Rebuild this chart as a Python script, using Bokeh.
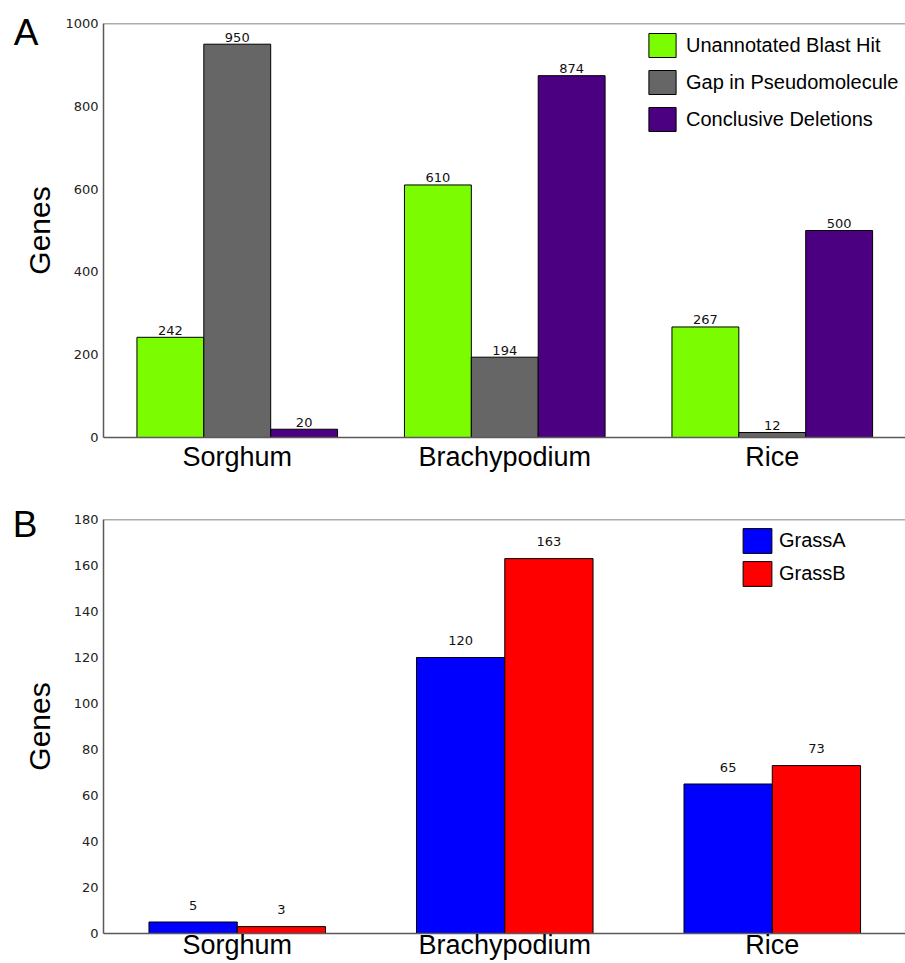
from bokeh.plotting import figure
from bokeh.models import (ColumnDataSource, Range1d, FixedTicker, CustomJSTickFormatter,
                          Legend, LegendItem, Span, LinearAxis)
from bokeh.layouts import column
from bokeh.embed import file_html
from bokeh.resources import INLINE
from bokeh.core.properties import value

# ---------------- data ----------------
species = ["Sorghum", "Brachypodium", "Rice"]

unannotated_blast_hit = [242, 610, 267]
gap_in_pseudomolecule = [950, 194, 12]
conclusive_deletions = [20, 874, 500]

grass_a = [5, 120, 65]
grass_b = [3, 163, 73]

ticks_a = [0, 200, 400, 600, 800, 1000]
ticks_b = [0, 20, 40, 60, 80, 100, 120, 140, 160, 180]

series_a_names = ["Unannotated Blast Hit", "Gap in Pseudomolecule", "Conclusive Deletions"]
series_b_names = ["GrassA", "GrassB"]
panel_letters = ["A", "B"]

# ---------------- style ----------------
AXIS_COLOR = "#5a5a5a"
TICK_FONT = "DejaVu Sans"
SANS = "Liberation Sans"
FRAME_H = 414


def make_panel(series, names, colors, bar_width, ymax, yticks, height, top, bottom,
               ylab_standoff, label_offset, xlab_standoff, legend_loc, glyph_w,
               glyph_h, leg_spacing, leg_standoff, letter, letter_from_top):
    p = figure(width=905, height=height, output_backend="svg", toolbar_location=None,
               x_range=Range1d(-0.5, 2.498), y_range=Range1d(0, ymax),
               min_border_left=103, min_border_right=0, min_border_top=top,
               min_border_bottom=bottom)
    p.outline_line_color = None
    p.grid.visible = False
    p.background_fill_color = "white"
    p.border_fill_color = "white"

    n = len(series)
    idx = list(range(len(species)))
    renderers = []
    for k, (vals, name, col) in enumerate(zip(series, names, colors)):
        off = (k - (n - 1) / 2.0) * bar_width
        xs = [i + off for i in idx]
        src = ColumnDataSource(dict(x=xs, top=vals, lab=[str(v) for v in vals]))
        r = p.vbar(x="x", top="top", width=bar_width, source=src, fill_color=col,
                   line_color="black", line_width=1)
        renderers.append((name, r))
        p.text(x="x", y="top", text="lab", source=src, text_align="center",
               text_baseline="alphabetic", y_offset=label_offset,
               text_font=value(TICK_FONT), text_font_size="13px", text_color="#111111")

    # axes
    p.xaxis.ticker = FixedTicker(ticks=idx)
    p.xaxis.formatter = CustomJSTickFormatter(
        args=dict(names=species),
        code="const i = Math.round(tick); return (i >= 0 && i < names.length) ? names[i] : '';")
    p.xaxis.major_label_text_font = SANS
    p.xaxis.major_label_text_font_size = "27px"
    p.xaxis.major_label_text_color = "black"
    p.xaxis.major_label_standoff = xlab_standoff

    p.yaxis.ticker = FixedTicker(ticks=yticks)
    p.yaxis.major_label_text_font = TICK_FONT
    p.yaxis.major_label_text_font_size = "13px"
    p.yaxis.major_label_text_color = "#222222"
    p.yaxis.major_label_standoff = 5
    p.yaxis.axis_label = "Genes"
    p.yaxis.axis_label_text_font = SANS
    p.yaxis.axis_label_text_font_size = "30px"
    p.yaxis.axis_label_text_font_style = "normal"
    p.yaxis.axis_label_text_color = "black"
    p.yaxis.axis_label_standoff = ylab_standoff

    for ax in (p.xaxis, p.yaxis):
        ax.major_tick_out = 0
        ax.major_tick_in = 0
        ax.minor_tick_out = 0
        ax.minor_tick_in = 0
        ax.axis_line_color = AXIS_COLOR
        ax.axis_line_width = 1.5

    # panel letter, carried by an outer left axis without line or ticks
    p.extra_y_ranges = {"letter": Range1d(0, FRAME_H)}
    lax = LinearAxis(y_range_name="letter",
                     ticker=FixedTicker(ticks=[FRAME_H - letter_from_top]),
                     formatter=CustomJSTickFormatter(args=dict(t=letter), code="return t;"),
                     axis_line_color=None, major_tick_out=0, major_tick_in=0,
                     minor_tick_out=0, minor_tick_in=0,
                     major_label_text_font=SANS, major_label_text_font_size="37px",
                     major_label_text_color="black", major_label_standoff=-18)
    p.add_layout(lax, "left")

    # top border of the frame
    p.add_layout(Span(location=ymax, dimension="width", line_color=AXIS_COLOR,
                      line_width=1.5))

    legend = Legend(items=[LegendItem(label=nm, renderers=[r]) for nm, r in renderers],
                    location=legend_loc, orientation="vertical",
                    glyph_width=glyph_w, glyph_height=glyph_h, spacing=leg_spacing,
                    label_standoff=leg_standoff, padding=0, margin=0,
                    label_text_font=SANS, label_text_font_size="20px",
                    label_text_color="black", label_height=glyph_h,
                    border_line_color=None, background_fill_alpha=0)
    p.add_layout(legend)
    return p


pa = make_panel([unannotated_blast_hit, gap_in_pseudomolecule, conclusive_deletions],
                series_a_names, ["#7CFC00", "#666666", "#4B0082"], 0.25, 1000, ticks_a,
                height=476, top=23, bottom=39, ylab_standoff=6, label_offset=-7,
                xlab_standoff=4, legend_loc=(542, 303), glyph_w=34, glyph_h=30,
                leg_spacing=7, leg_standoff=7, letter=panel_letters[0],
                letter_from_top=8.5)

pb = make_panel([grass_a, grass_b], series_b_names, ["#0000FF", "#FF0000"], 0.33, 180,
                ticks_b, height=487, top=43, bottom=30, ylab_standoff=15, label_offset=-17,
                xlab_standoff=-4, legend_loc=(636, 344), glyph_w=36, glyph_h=31,
                leg_spacing=2, leg_standoff=4, letter=panel_letters[1],
                letter_from_top=5)

layout = column(pa, pb, spacing=0)
open("out.html", "w").write(file_html(layout, INLINE))
